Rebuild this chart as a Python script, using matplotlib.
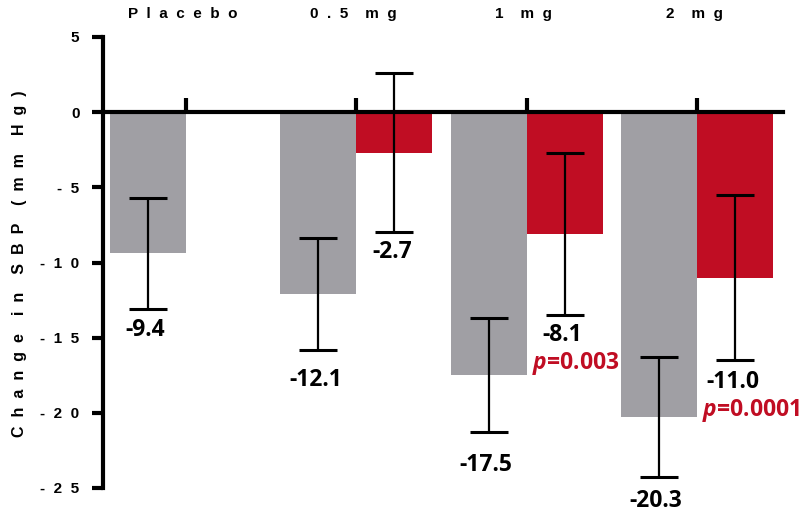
import numpy as np
import matplotlib
matplotlib.use('Agg')
import matplotlib.pyplot as plt

# data
groups = ['P  l  a  c  e  b  o', '0  .  5    m  g', '1    m  g', '2    m  g']
gray_vals = [-9.4, -12.1, -17.5, -20.3]
gray_err = [3.7, 3.7, 3.8, 4.0]
red_vals = [np.nan, -2.7, -8.1, -11.0]
red_err = [np.nan, 5.3, 5.4, 5.5]
gray_text = ['-9.4', '-12.1', '-17.5', '-20.3']
red_text = [None, '-2.7', '-8.1', '-11.0']
p_text = [None, None, r'$\mathit{p}$=0.003', r'$\mathit{p}$=0.0001']
yticks = [5, 0, -5, -10, -15, -20, -25]
ytick_labels = ['5', '0', '-  5', '-  1  0', '-  1  5', '-  2  0', '-  2  5']

GRAY = '#a09fa4'
RED = '#c00d23'

plt.rcParams['mathtext.fontset'] = 'custom'
plt.rcParams['mathtext.it'] = 'Open Sans:italic:bold'
plt.rcParams['mathtext.rm'] = 'Open Sans:bold'

# layout offsets (pixels below the lower whisker)
gray_off = [21, 30, 33, 24]
red_off = [0, 20, 20, 22]


def main():
    fig = plt.figure(figsize=(8.05, 5.12), dpi=100)
    ax = fig.add_axes([103 / 805, 24 / 512, 680 / 805, 451 / 512])

    spacing = 170.33 / 76
    centers = np.arange(len(groups)) * spacing
    xg = centers - 0.5
    xr = centers + 0.5

    ax.bar(xg, gray_vals, width=1.0, color=GRAY, zorder=1)
    ax.bar(xr, red_vals, width=1.0, color=RED, zorder=1)
    ax.errorbar(xg, gray_vals, yerr=gray_err, fmt='none', ecolor='black',
                elinewidth=1.6, capsize=13.5, capthick=2.2, zorder=3)
    ax.errorbar(xr, red_vals, yerr=red_err, fmt='none', ecolor='black',
                elinewidth=1.6, capsize=13.5, capthick=2.2, zorder=3)

    lab_font = dict(family='Open Sans', fontweight='bold', fontsize=16.5)
    for i in range(len(groups)):
        low = gray_vals[i] - gray_err[i]
        ax.annotate(gray_text[i], (xg[i], low), xytext=(-3, -gray_off[i]),
                    textcoords='offset pixels', ha='center', va='center',
                    **lab_font)
        if red_text[i] is not None:
            low = red_vals[i] - red_err[i]
            ax.annotate(red_text[i], (xr[i], low), xytext=(-2, -red_off[i]),
                        textcoords='offset pixels', ha='center', va='center',
                        **lab_font)
            if p_text[i] is not None:
                ax.annotate(p_text[i], (xr[i], low),
                            xytext=(-33, -red_off[i] - 28),
                            textcoords='offset pixels', ha='left',
                            va='center', color=RED, **lab_font)

    # group names on top
    for c, g in zip(centers, groups):
        ax.text(c - 0.04, 1.05, g, transform=ax.get_xaxis_transform(),
                ha='center', va='center', fontsize=11, fontweight='bold',
                family='Liberation Sans')

    ax.set_xlim(-83 / 76, 597 / 76)
    ax.set_ylim(-25, 5)
    ax.spines['top'].set_visible(False)
    ax.spines['right'].set_visible(False)
    ax.spines['bottom'].set_position(('data', 0))
    ax.spines['bottom'].set_linewidth(3)
    ax.spines['left'].set_linewidth(3)
    ax.spines['bottom'].set_zorder(4)

    ax.set_xticks(centers)
    ax.set_xticklabels([])
    ax.tick_params(axis='x', direction='in', length=10, width=3)
    ax.set_yticks(yticks)
    ax.set_yticklabels(ytick_labels)
    ax.tick_params(axis='y', direction='out', length=8, width=3, pad=9)
    for t in ax.get_yticklabels():
        t.set_fontweight('bold')
        t.set_fontsize(11)
        t.set_family('Liberation Sans')

    fig.text(20 / 805, 0.484,
             'C  h  a  n  g  e    i  n    S  B  P    (  m  m    H  g  )',
             rotation=90, ha='center', va='center', fontsize=11.5,
             fontweight='bold', family='Liberation Sans')

    fig.savefig('out.png', dpi=100)


if __name__ == '__main__':
    main()
